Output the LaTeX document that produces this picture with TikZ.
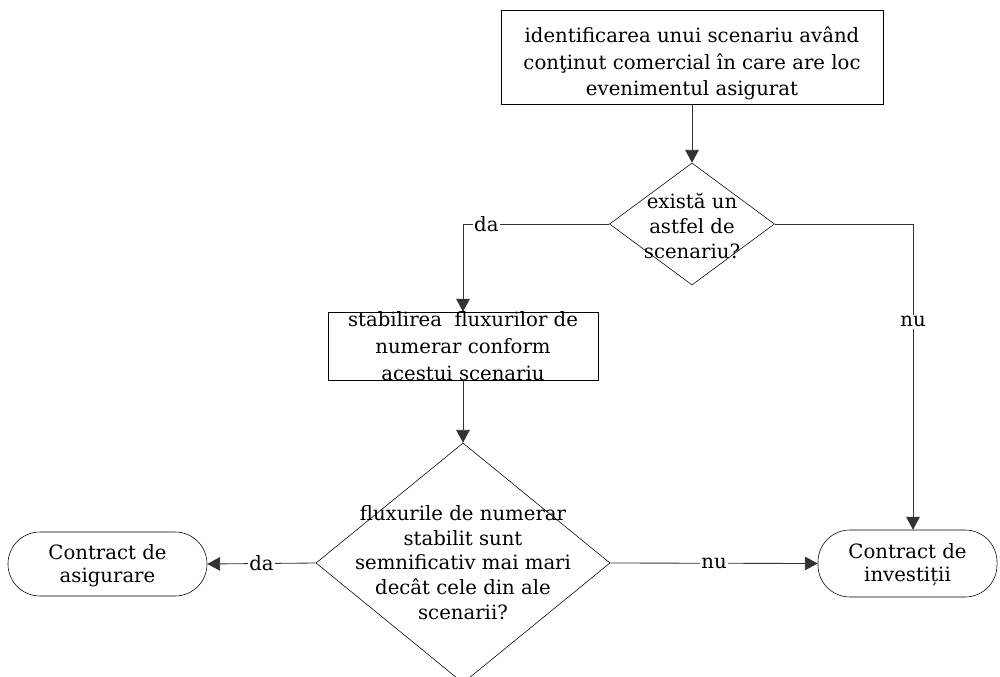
\documentclass[tikz,border=0pt]{standalone}
\usepackage{fontspec}
\setmainfont{DejaVu Serif}
\usetikzlibrary{arrows.meta,shapes.geometric,calc}
\newcommand{\ftext}[2][0pt]{\makebox[0pt]{\raisebox{\dimexpr-5pt-#1\relax}[0pt][0pt]{\begin{tabular}{@{}c@{}}#2\end{tabular}}}}
\tikzset{
  box/.style={draw=black, inner sep=0pt, font=\fontsize{14}{19}\selectfont},
  decision/.style={diamond, draw=black, inner sep=0pt, font=\fontsize{14}{17.7}\selectfont},
  terminal/.style={draw=black, rounded corners=8mm, inner sep=0pt, font=\fontsize{14}{16.5}\selectfont},
  arrow/.style={-{Triangle[length=3.2mm,width=3.4mm]}, line width=0.6pt, draw=black!80},
  tag/.style={fill=white, inner sep=1pt, font=\fontsize{14}{16}\selectfont}
}

\begin{document}
\begin{tikzpicture}[x=0.025cm, y=-0.025cm]
\useasboundingbox (0,0) rectangle (1000,677);
\node[box, minimum width=9.55cm, minimum height=2.35cm] (ident) at (692,57) {\ftext[3.5pt]{identificarea unui scenariu având\\conţinut comercial în care are loc\\evenimentul asigurat}};
\node[decision, minimum width=4.125cm, minimum height=3.05cm] (exists) at (692,224) {\ftext[2pt]{există un\\astfel de\\scenariu?}};
\node[box, minimum width=6.75cm, minimum height=1.7cm] (stab) at (463,346) {\ftext{stabilirea~ fluxurilor de\\numerar conform\\acestui scenariu}};
\node[decision, minimum width=7.35cm, minimum height=6cm] (flux) at (463,563) {\ftext{fluxurile de numerar\\stabilit sunt\\semnificativ mai mari\\decât cele din ale\\scenarii?}};
\node[terminal, minimum width=4.975cm, minimum height=1.6cm] (asig) at (107.5,564) {\ftext{Contract de\\asigurare}};
\node[terminal, minimum width=4.475cm, minimum height=1.675cm] (inv) at (907.5,563.5) {\ftext{Contract de\\investiții}};
\coordinate (nuc) at (913,224);
\draw[arrow] (ident) -- (exists);
\draw[arrow] (exists.west) -| node[tag, pos=0.42] {da} (stab.north);
\draw[arrow] (exists.east) -- (nuc) -- node[tag, pos=0.32] {nu} (nuc |- inv.north);
\draw[arrow] (stab) -- (flux);
\draw[arrow] (flux.west) -- node[tag] {da} (asig.east);
\draw[arrow] (flux.east) -- node[tag] {nu} (inv.west);
\end{tikzpicture}
\end{document}
